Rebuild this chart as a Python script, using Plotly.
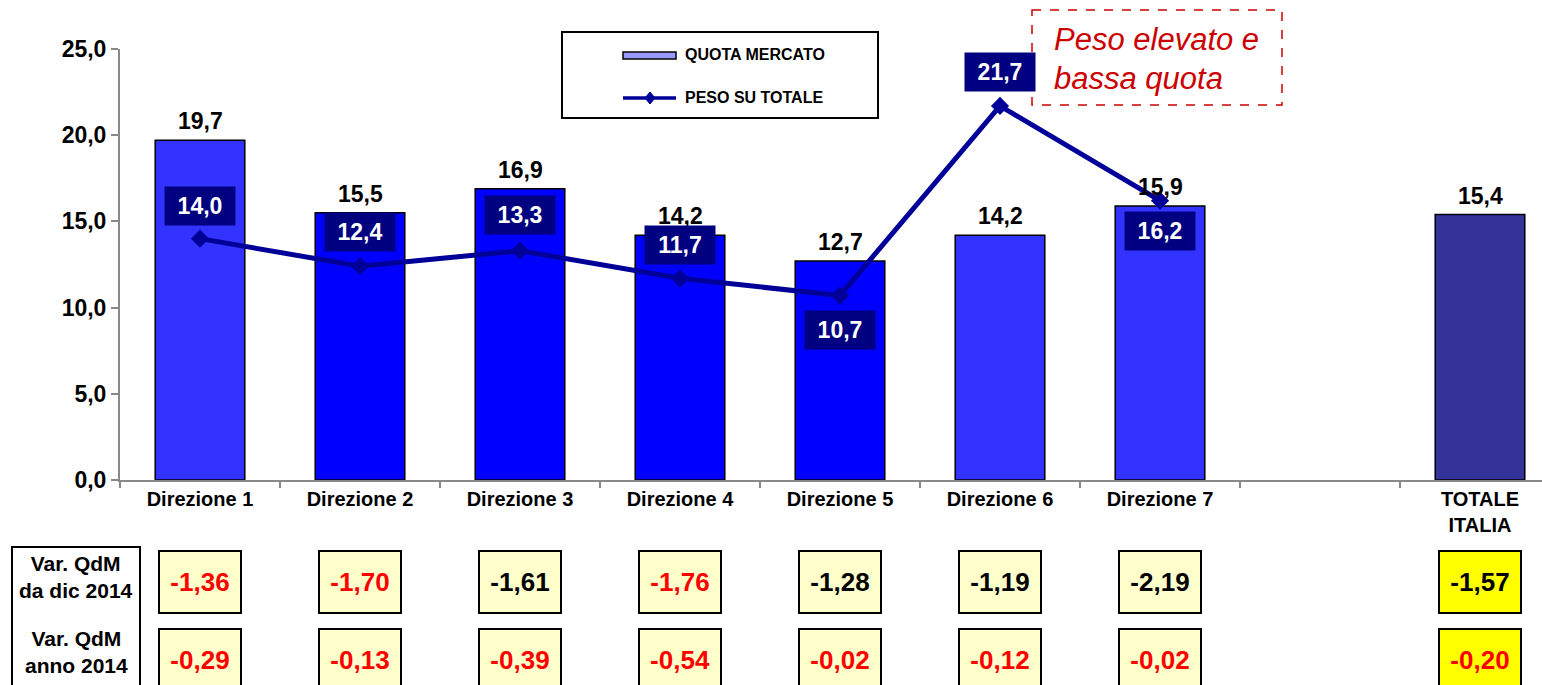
import plotly.graph_objects as go

# ---- data ----
categories = ["Direzione 1", "Direzione 2", "Direzione 3", "Direzione 4",
              "Direzione 5", "Direzione 6", "Direzione 7", " ", "TOTALE<br>ITALIA"]
quota_mercato = [19.7, 15.5, 16.9, 14.2, 12.7, 14.2, 15.9, None, 15.4]
peso_su_totale = [14.0, 12.4, 13.3, 11.7, 10.7, 21.7, 16.2, None, None]

var_dic_2014 = [-1.36, -1.70, -1.61, -1.76, -1.28, -1.19, -2.19, None, -1.57]
var_dic_colors = ["#FF0000", "#FF0000", "#000000", "#FF0000", "#000000",
                  "#000000", "#000000", None, "#000000"]
var_anno_2014 = [-0.29, -0.13, -0.39, -0.54, -0.02, -0.12, -0.02, None, -0.20]
var_anno_colors = ["#FF0000"] * 7 + [None, "#FF0000"]

bar_colors = ["#3333FF", "#0000FF", "#0000FF", "#0000FF", "#0000FF",
              "#3333FF", "#3333FF", "#FFFFFF", "#333399"]
# vertical offset (px) of each PESO label relative to its point
peso_label_shift = [33, 34, 36, 33, -34, 34, -30]

FONT = "Liberation Sans, Arial, sans-serif"
W, H = 1542, 685
ML, MR, MT, MB = 120, 0, 49, 205
PW, PH = W - ML - MR, H - MT - MB


def px2x(px):
    return (px - ML) / PW


def px2y(py):
    return (H - MB - py) / PH


def fmt(v, d):
    return f"{v:.{d}f}".replace(".", ",")


fig = go.Figure()

fig.add_trace(go.Bar(
    x=categories, y=quota_mercato, width=0.56,
    marker=dict(color=bar_colors, line=dict(color="#000000", width=1.5)),
    showlegend=False, hoverinfo="skip",
))

fig.add_trace(go.Scatter(
    x=categories[:7], y=peso_su_totale[:7], mode="lines+markers",
    line=dict(color="#000099", width=5),
    marker=dict(symbol="diamond", size=14, color="#000099"),
    showlegend=False, hoverinfo="skip",
))

annotations = []

# QUOTA MERCATO value labels above bars
for cat, v in zip(categories, quota_mercato):
    if v is None:
        continue
    annotations.append(dict(
        x=cat, y=v, xref="x", yref="y", showarrow=False,
        xanchor="center", yanchor="bottom", yshift=4,
        text=fmt(v, 1),
        font=dict(family=FONT, size=23, color="#000000", weight="bold"),
    ))

# PESO value labels in dark boxes
for cat, v, s in zip(categories[:7], peso_su_totale[:7], peso_label_shift):
    annotations.append(dict(
        x=cat, y=v, xref="x", yref="y", showarrow=False, yshift=s,
        xanchor="center", yanchor="middle",
        text=fmt(v, 1), bgcolor="#000080", width=62, height=30, borderpad=4,
        font=dict(family=FONT, size=23, color="#FFFFFF", weight="bold"),
    ))

# table of variations below the chart
for row_vals, row_cols, row_py in [
    (var_dic_2014, var_dic_colors, 582),
    (var_anno_2014, var_anno_colors, 660),
]:
    for i, (cat, v, c) in enumerate(zip(categories, row_vals, row_cols)):
        if v is None:
            continue
        annotations.append(dict(
            x=cat, y=px2y(row_py), xref="x", yref="paper", showarrow=False,
            xanchor="center", yanchor="middle",
            text=fmt(v, 2), bgcolor="#FFFF00" if i == 8 else "#FFFFCC",
            bordercolor="#000000", borderwidth=2, borderpad=3,
            width=74, height=54,
            font=dict(family=FONT, size=26, color=c, weight="bold"),
        ))

# row headers
for txt, py in [("Var. QdM<br>da dic 2014", 577), ("Var. QdM<br>anno 2014", 652)]:
    annotations.append(dict(
        x=px2x(76), y=px2y(py), xref="paper", yref="paper", showarrow=False,
        xanchor="center", yanchor="middle", text=txt, align="center",
        font=dict(family=FONT, size=21, color="#000000", weight="bold"),
    ))

# legend texts
for txt, py in [("QUOTA MERCATO", 55), ("PESO SU TOTALE", 98)]:
    annotations.append(dict(
        x=px2x(683), y=px2y(py), xref="paper", yref="paper", showarrow=False,
        xanchor="left", yanchor="middle", text=txt,
        font=dict(family=FONT, size=16, color="#000000", weight="bold"),
    ))

# callout text
for txt, py in [("Peso elevato e", 40), ("bassa quota", 78)]:
    annotations.append(dict(
        x=px2x(1052), y=px2y(py), xref="paper", yref="paper", showarrow=False,
        xanchor="left", yanchor="middle", text=txt,
        font=dict(family=FONT, size=31, color="#CC0000", style="italic"),
    ))

shapes = [
    # row header box
    dict(type="rect", xref="paper", yref="paper", x0=px2x(12), x1=px2x(140),
         y0=px2y(547), y1=px2y(700), line=dict(color="#000000", width=2),
         fillcolor="#FFFFFF", layer="below"),
    # legend box
    dict(type="rect", xref="paper", yref="paper", x0=px2x(562), x1=px2x(878),
         y0=px2y(32), y1=px2y(118), line=dict(color="#000000", width=2),
         fillcolor="#FFFFFF", layer="below"),
    # legend bar swatch
    dict(type="rect", xref="paper", yref="paper", x0=px2x(623), x1=px2x(676),
         y0=px2y(52), y1=px2y(59), line=dict(color="#000000", width=1.5),
         fillcolor="#9999FF"),
    # legend line swatch
    dict(type="line", xref="paper", yref="paper", x0=px2x(623), x1=px2x(676),
         y0=px2y(98), y1=px2y(98), line=dict(color="#000099", width=3.5)),
    dict(type="path", xref="paper", yref="paper",
         path=(f"M {px2x(645)},{px2y(98)} L {px2x(650)},{px2y(92)} "
               f"L {px2x(655)},{px2y(98)} L {px2x(650)},{px2y(104)} Z"),
         fillcolor="#000099", line=dict(color="#000099", width=1)),
    # callout dashed frame
    dict(type="rect", xref="paper", yref="paper", x0=px2x(1032), x1=px2x(1282),
         y0=px2y(10), y1=px2y(105), line=dict(color="#CC0000", width=1.5, dash="dash"),
         fillcolor="rgba(0,0,0,0)", layer="below"),
]

fig.update_layout(
    width=W, height=H, autosize=False,
    margin=dict(l=ML, r=MR, t=MT, b=MB, pad=0),
    paper_bgcolor="#FFFFFF", plot_bgcolor="#FFFFFF",
    separators=",.",
    showlegend=False,
    annotations=annotations,
    shapes=shapes,
    xaxis=dict(
        type="category", range=[-0.5, 8.3875], categoryorder="array",
        categoryarray=categories,
        showline=True, linecolor="#888888", linewidth=2,
        showgrid=False, zeroline=False,
        ticks="outside", tickson="boundaries", ticklen=6,
        tickcolor="#888888", tickwidth=2,
        tickfont=dict(family=FONT, size=20, color="#000000", weight="bold"),
    ),
    yaxis=dict(
        range=[0, 25], tickvals=[0, 5, 10, 15, 20, 25], tickformat=".1f",
        showline=True, linecolor="#888888", linewidth=2,
        showgrid=False, zeroline=False,
        ticks="outside", ticklen=7, tickcolor="#888888", tickwidth=2,
        tickfont=dict(family=FONT, size=23, color="#000000", weight="bold"),
    ),
)

fig.write_html("out.html")
